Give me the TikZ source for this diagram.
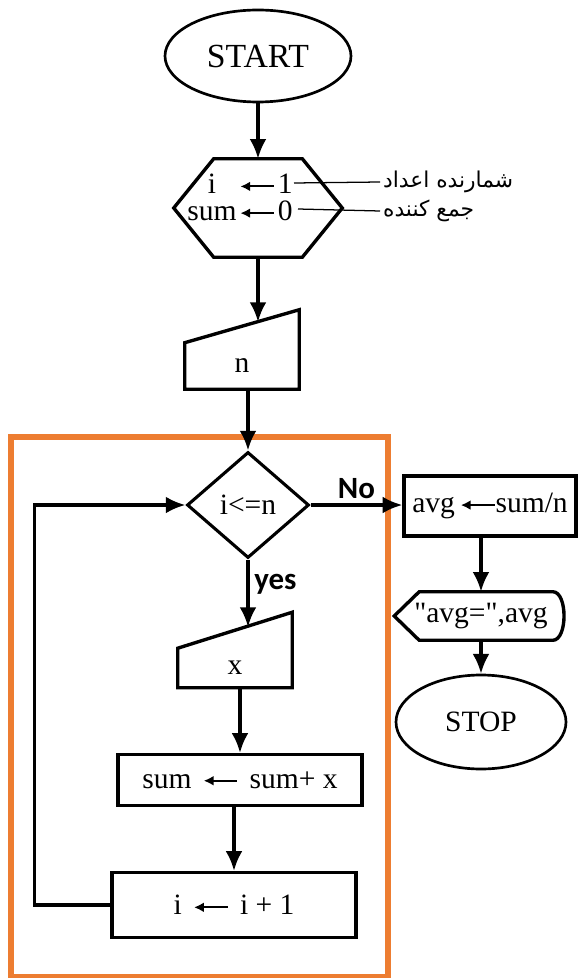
\documentclass[tikz,border=0pt]{standalone}
\usepackage{fontspec}
\setmainfont{Liberation Serif}
\newfontfamily\labelfont{Carlito}
\newfontfamily\arabicfont[Script=Arabic]{DejaVu Sans}
\TeXXeTstate=1
\usetikzlibrary{shapes.geometric,arrows.meta,calc,positioning}
\definecolor{frameorange}{RGB}{237,125,49}
\newlength{\pxu}
\setlength{\pxu}{0.025cm}
\newcommand{\asg}{\tikz[baseline=-0.55ex]\draw[line width=1.4pt,{Latex[length=7pt,width=7pt]}-](0,0)--(24pt,0);}

\begin{document}
\begin{tikzpicture}[x=0.025cm, y=-0.025cm, font=\fontsize{21}{24}\selectfont]
    % Styles
    \tikzstyle{terminal} = [ellipse, draw=black, line width=1.9pt, inner sep=0pt]
    \tikzstyle{prep} = [rectangle, minimum width=168\pxu, minimum height=98\pxu, inner sep=0pt]
    \tikzstyle{process} = [rectangle, draw=black, line width=2.4pt, inner sep=0pt]
    \tikzstyle{decision} = [diamond, draw=black, line width=2.2pt, minimum width=122\pxu, minimum height=106\pxu, inner sep=0pt]
    \tikzstyle{manual} = [rectangle, minimum width=114\pxu, inner sep=0pt]
    \tikzstyle{io} = [rectangle, minimum width=173\pxu, minimum height=48\pxu, inner sep=0pt]
    \tikzstyle{outline} = [draw=black, line width=2.4pt, line join=miter]
    \tikzstyle{arrow} = [line width=2.3pt, -{Latex[length=14pt, width=12pt]}]
    \tikzstyle{answer} = [font=\labelfont\bfseries\fontsize{22}{24}\selectfont]
    \tikzstyle{note} = [anchor=west, inner sep=2pt, font=\arabicfont\fontsize{15.5}{18}\selectfont]
    \tikzstyle{leader} = [line width=0.9pt]

    \useasboundingbox (0,0) rectangle (583,978);

    % Loop frame
    \draw[frameorange, line width=3.6pt] (11,437) rectangle (388,977);

    % Main column
    \node (start) [terminal, minimum width=186\pxu, minimum height=92\pxu, font=\fontsize{24}{26}\selectfont] at (258,56) {START};
    \node (init) [prep] at (258,208) {\renewcommand\arraystretch{0.7}%
        \begin{tabular}{@{}c@{\hspace{2pt}}c@{\hspace{2pt}}c@{\hspace{36\pxu}}}
            i & \asg & 1\\
            sum & \asg & 0\\[14\pxu]
        \end{tabular}};
    \draw[outline] (init.west) -- ($(init.north west)+(40,0)$) -- ($(init.north east)+(-40,0)$)
        -- (init.east) -- ($(init.south east)+(-40,0)$) -- ($(init.south west)+(40,0)$) -- cycle;
    \node (readn) [manual, minimum height=46\pxu] at (242,366) {n};
    \draw[outline] (readn.south west) -- (readn.north west) -- ($(readn.north east)+(0,-33)$)
        -- (readn.south east) -- cycle;
    \coordinate (ntop) at (258,322);
    \node (test) [decision] at (248,505) {i<=n};
    \node (readx) [manual, minimum height=39\pxu] at (235,668) {x};
    \draw[outline] (readx.south west) -- (readx.north west) -- ($(readx.north east)+(0,-36)$)
        -- (readx.south east) -- cycle;
    \coordinate (xtop) at (248,627);
    \node (add) [process, minimum width=244\pxu, minimum height=51\pxu] at (240,780) {sum\hspace{8pt}\asg\hspace{8pt}sum+ x};
    \node (inc) [process, minimum width=244\pxu, minimum height=65\pxu] at (234,905) {i\hspace{8pt}\asg\hspace{8pt}i + 1};

    % Exit branch
    \node (avg) [process, minimum width=172\pxu, minimum height=60\pxu] at (490,506) {avg\,\asg sum/n};
    \node (show) [io] at (481,616) {\textquotedbl avg=\textquotedbl,avg};
    \draw[outline] (show.west) -- ($(show.north west)+(25,0)$) -- ($(show.north east)+(-15,0)$)
        .. controls (show.north east) and (show.south east) .. ($(show.south east)+(-15,0)$)
        -- ($(show.south west)+(25,0)$) -- cycle;
    \node (stop) [terminal, minimum width=170\pxu, minimum height=94\pxu] at (481,722) {STOP};

    % Notes
    \node (cnt) [note] at (380,182) {\beginR شمارنده اعداد\endR};
    \node (acc) [note] at (380,211) {\beginR جمع کننده\endR};
    \coordinate (one) at (294,183);
    \coordinate (zero) at (298,209);
    \draw[leader] (one) -- (cnt.west);
    \draw[leader] (zero) -- (acc.west);

    % Arrows
    \draw[arrow] (start) -- (init);
    \draw[arrow] (init) -- (ntop);
    \draw[arrow] (readn.south -| test) -- (test);
    \draw[arrow] (test) -- node[right, answer, pos=0.36] {yes} (xtop);
    \draw[arrow] (readx.south -| add) -- (add);
    \draw[arrow] (add.south -| inc) -- (inc);
    \draw[arrow] (inc.west) -- ++(-76,0) |- (test.west);
    \draw[arrow] (test) -- node[above, answer] {No} (test -| avg.west);
    \draw[arrow] (avg.south -| show) -- (show.north);
    \draw[arrow] (show) -- (stop);
\end{tikzpicture}
\end{document}
